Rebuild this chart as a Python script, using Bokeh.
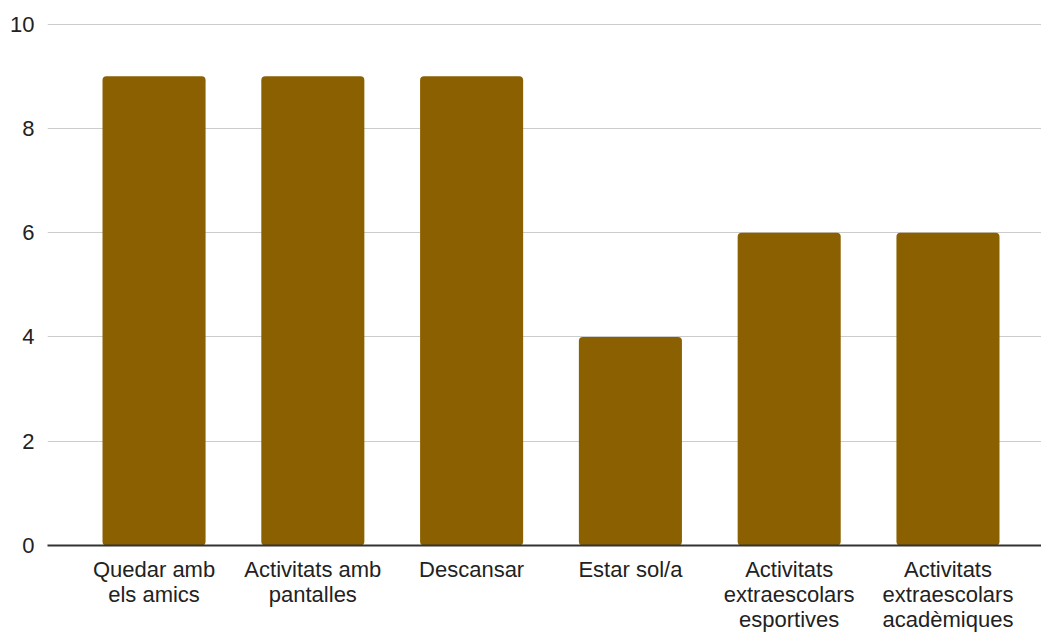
from bokeh.plotting import figure
from bokeh.models import Range1d, FixedTicker, ColumnDataSource
from bokeh.embed import file_html
from bokeh.resources import INLINE

categories = ["Quedar amb\nels amics", "Activitats amb\npantalles", "Descansar", "Estar sol/a",
              "Activitats\nextraescolars\nesportives", "Activitats\nextraescolars\nacadèmiques"]
values = [9, 9, 9, 4, 6, 6]
y_ticks = [0, 2, 4, 6, 8, 10]

xs = list(range(len(categories)))
src = ColumnDataSource(dict(x=xs, top=values))

p = figure(width=1041, height=634, output_backend="svg", toolbar_location=None,
           x_range=Range1d(-0.671, 5.589), y_range=Range1d(0, 10.03),
           min_border_left=47, min_border_top=22, min_border_bottom=87, min_border_right=0)
p.outline_line_color = None

p.vbar(x="x", top="top", width=0.649, source=src, fill_color="#8B6000",
       line_color=None, border_radius=4)

font = "Liberation Sans"
p.xaxis.ticker = FixedTicker(ticks=xs)
p.xaxis.major_label_overrides = {i: c for i, c in enumerate(categories)}
p.xaxis.major_label_text_font = font
p.xaxis.major_label_text_font_size = "22px"
p.xaxis.major_label_text_color = "#222222"
p.xaxis.major_label_text_line_height = 1.0
p.xaxis.major_tick_line_color = None
p.xaxis.major_tick_out = 0
p.xaxis.major_tick_in = 0
p.xaxis.minor_tick_line_color = None
p.xaxis.minor_tick_out = 0
p.xaxis.axis_line_color = "#333333"
p.xaxis.axis_line_width = 2
p.xaxis.major_label_standoff = 11
p.xgrid.grid_line_color = None

p.yaxis.ticker = FixedTicker(ticks=y_ticks)
p.yaxis.major_label_text_font = font
p.yaxis.major_label_text_font_size = "22px"
p.yaxis.major_label_text_color = "#222222"
p.yaxis.major_tick_line_color = None
p.yaxis.major_tick_out = 0
p.yaxis.major_tick_in = 0
p.yaxis.minor_tick_line_color = None
p.yaxis.minor_tick_out = 0
p.yaxis.axis_line_color = None
p.yaxis.major_label_standoff = 13
p.ygrid.grid_line_color = "#cccccc"
p.ygrid.grid_line_width = 1

open("out.html", "w").write(file_html(p, INLINE))
